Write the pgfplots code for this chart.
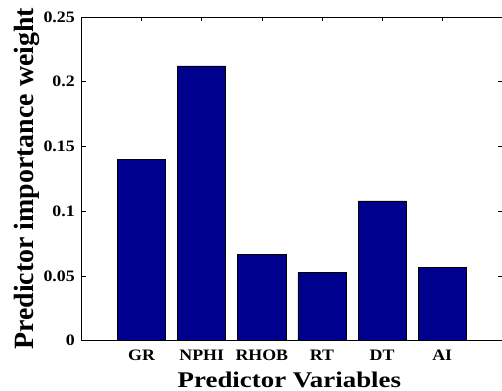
\documentclass[border=0pt]{standalone}
\usepackage{fontspec}
\setmainfont{Liberation Serif}
\newfontfamily\tickfont[FakeStretch=1.12]{Liberation Serif}
\newfontfamily\xlabfont[FakeStretch=1.2]{Liberation Serif}
\usepackage{pgfplots}
\pgfplotsset{compat=1.18}
\definecolor{barblue}{RGB}{0,0,143}
\begin{document}
\begin{tikzpicture}
\begin{axis}[
  at={(81.5bp,50.3bp)}, anchor=south west,
  scale only axis, width=420.8bp, height=323.7bp,
  xmin=0, xmax=7, ymin=0, ymax=0.25,
  xtick={1,2,3,4,5,6},
  xticklabels={GR,NPHI,RHOB,RT,DT,AI},
  ytick={0,0.05,0.1,0.15,0.2,0.25},
  yticklabels={0,0.05,0.1,0.15,0.2,0.25},
  tick align=inside,
  major tick length=4bp,
  tick style={black, line width=0.5pt},
  axis line style={black, line width=0.8pt},
  x tick label style={font=\tickfont\bfseries\fontsize{16}{16}\selectfont, anchor=base, inner sep=0pt, yshift=-20.3bp},
  y tick label style={font=\tickfont\bfseries\fontsize{16}{16}\selectfont, anchor=east, inner sep=0pt, xshift=-6.5bp},
  xlabel={Predictor Variables},
  xlabel style={font=\xlabfont\bfseries\fontsize{22.5}{22.5}\selectfont, at={(axis description cs:0.494,0)}, anchor=base, inner sep=0pt, yshift=-46.4bp},
  ylabel={Predictor importance weight},
  ylabel style={font=\bfseries\fontsize{28}{28}\selectfont, at={(axis description cs:0,0.5)}, anchor=base, inner sep=0pt, yshift=48.5bp},
]
\addplot[ybar, bar width=0.8, fill=barblue, draw=black, line width=0.6pt] coordinates {(1,0.1403) (2,0.2122) (3,0.0664) (4,0.0525) (5,0.1079) (6,0.0567)};
\end{axis}
\pgfresetboundingbox
\path[use as bounding box] (0,0) rectangle (502bp,391bp);
\end{tikzpicture}
\end{document}
